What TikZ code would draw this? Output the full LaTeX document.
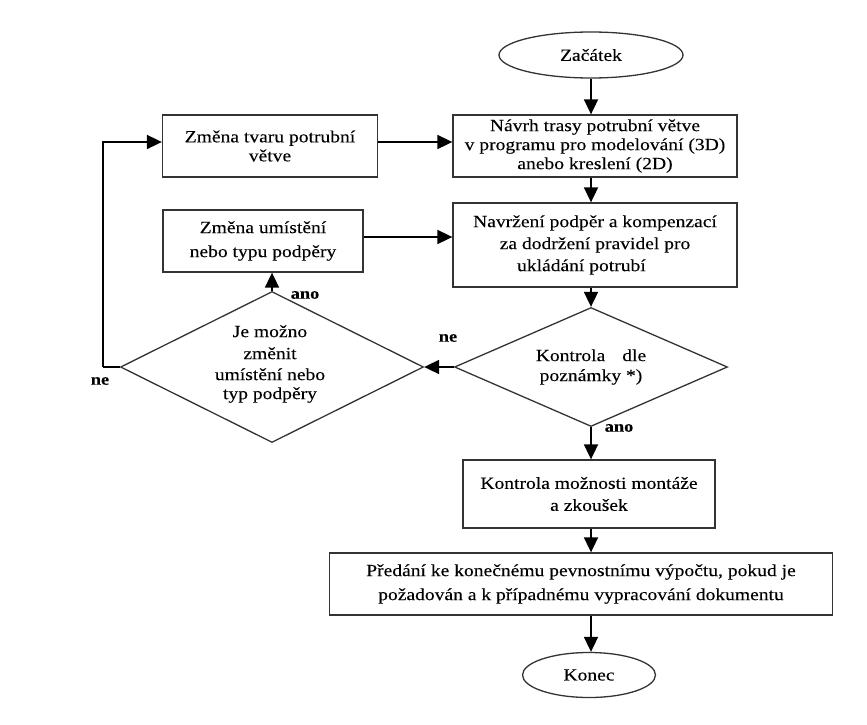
\documentclass[tikz,border=0pt]{standalone}
\usepackage{fontspec}
\setmainfont[FakeStretch=1.15,FakeBold=0.15]{Liberation Serif}
\usetikzlibrary{shapes.geometric,arrows.meta}
\tikzset{
  txt/.style={font=\fontsize{17}{22}\selectfont, align=center, text=black},
  box/.style={txt, draw=black!80, line width=1.3pt, inner sep=0pt},
  term/.style={txt, draw=black!80, line width=1.3pt, ellipse, inner sep=0pt},
  dec/.style={draw=black!80, line width=1.3pt, diamond, inner sep=0pt},
  lbl/.style={font=\fontsize{16}{18}\selectfont\bfseries, text=black},
  arr/.style={draw=black, line width=1.8pt, -{Triangle[length=15pt,width=14pt]}},
  ln/.style={draw=black, line width=1.8pt},
}
\begin{document}
\begin{tikzpicture}[x=1pt,y=-1pt]
\useasboundingbox (0,0) rectangle (867,725);
\node[term, minimum width=184pt, minimum height=46pt] (z) at (591,55) {Začátek};
\node[box, minimum width=284pt, minimum height=62pt] (b1) at (595,146) {Návrh trasy potrubní větve\\[-3pt]v programu pro modelování (3D)\\[-3pt]anebo kreslení (2D)};
\node[box, minimum width=284pt, minimum height=84pt] (b2) at (595,245) {Navržení podpěr a kompenzací\\za dodržení pravidel pro\\ukládání potrubí\hspace*{1.6em}};
\node[dec, minimum width=273pt, minimum height=119pt] (d1) at (591,367) {};
\node[txt] (d1t) at (d1.center) {Kontrola\quad dle\\[-2pt]poznámky *)};
\node[dec, minimum width=303pt, minimum height=151pt] (d2) at (272,367) {};
\node[txt] (d2t) at (270,364) {Je možno\\změnit\\[-1pt]umístění nebo\\[-3pt]typ podpěry};
\node[box, minimum width=215pt, minimum height=62pt] (b5) at (270,146) {Změna tvaru potrubní\\[-3pt]větve};
\node[box, minimum width=200pt, minimum height=62pt] (b4) at (263,241) {Změna umístění\\[2pt]nebo typu podpěry};
\node[box, minimum width=252pt, minimum height=68pt] (b6) at (589,494) {Kontrola možnosti montáže\\a zkoušek};
\node[box, minimum width=503pt, minimum height=62pt] (b7) at (581,584) {Předání ke konečnému pevnostnímu výpočtu, pokud je\\[2pt]požadován a k případnému vypracování dokumentu};
\node[term, minimum width=133pt, minimum height=45pt] (k) at (589,675) {Konec};
% main flow
\draw[arr] (z.south) -- (z.south |- b1.north);
\draw[arr] (z.south |- b1.south) -- (z.south |- b2.north);
\draw[arr] (z.south |- b2.south) -- (d1.north);
\draw[arr] (d1.south) -- (d1.south |- b6.north);
\draw[arr] (d1.south |- b6.south) -- (d1.south |- b7.north);
\draw[arr] (d1.south |- b7.south) -- (k.north -| d1.south);
% loops
\draw[arr] (d1.west) -- (d2.east);
\draw[arr] (d2.north) -- (d2.north |- b4.south);
\draw[arr] ([yshift=4pt]b4.east) -- ([yshift=4pt]b4.east -| b2.west);
\draw[arr] ([yshift=4pt]b5.east) -- ([yshift=4pt]b5.east -| b1.west);
\coordinate (lc) at (103,367);
\draw[ln] (d2.west) -- (lc);
\draw[arr] (lc) |- ([yshift=4pt]b5.west);
% labels
\node[lbl] (l1) at (619,428) {ano};
\node[lbl] (l2) at (448,338) {ne};
\node[lbl] (l3) at (305,295) {ano};
\node[lbl] (l4) at (100,381) {ne};
\end{tikzpicture}
\end{document}
